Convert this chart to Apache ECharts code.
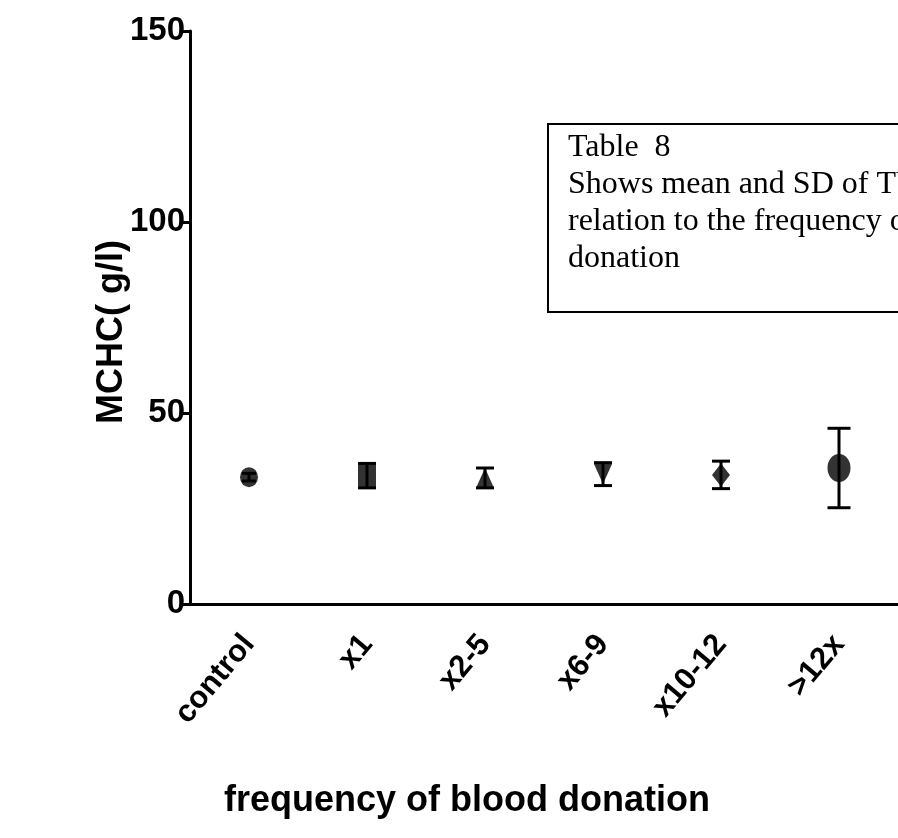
<!DOCTYPE html>
<html>
<head>
<meta charset="utf-8">
<script src="https://cdn.jsdelivr.net/npm/echarts@6/dist/echarts.min.js"></script>
<style>
  html, body { margin: 0; padding: 0; background: #fff; }
  #chart { width: 898px; height: 838px; }
</style>
</head>
<body>
<div id="chart"></div>
<script>
// Groups by number of donations
const categories = ['control', 'x1', 'x2-5', 'x6-9', 'x10-12', '>12x'];
// Mean MCHC per group
const means = [33.2, 33.6, 33.0, 34.0, 33.8, 35.6];
// Standard deviation per group
const sds = [1.0, 3.2, 2.6, 3.0, 3.6, 10.4];
// Marker shape per group
const shapes = ['circle', 'rect', 'triangle', 'path://M0,0 L10,0 L5,10 Z', 'diamond', 'circle'];
const sizes = [[18, 20], [18, 23], [18, 20], [18, 20], [18, 23], [23, 28]];
const capWidths = [14, 18, 18, 18, 18, 23];
const yTicks = [0, 50, 100, 150];

const font = 'Liberation Sans, Arial, sans-serif';
const serif = 'Liberation Serif, Times New Roman, serif';
const chart = echarts.init(document.getElementById('chart'));

const pointData = categories.map((c, i) => ({
  value: [i, means[i]],
  symbol: shapes[i],
  symbolSize: sizes[i]
}));
const barData = categories.map((c, i) => [i, means[i] - sds[i], means[i] + sds[i], capWidths[i]]);

chart.setOption({
  animation: false,
  backgroundColor: '#fff',
  grid: { left: 190, top: 31, bottom: 234, right: -8 },
  xAxis: {
    type: 'category',
    data: categories,
    boundaryGap: true,
    axisLine: { lineStyle: { color: '#000', width: 3 } },
    axisTick: { alignWithLabel: true, length: 15, lineStyle: { color: '#000', width: 3 } },
    axisLabel: {
      rotate: 50, margin: 35, color: '#000',
      fontFamily: font, fontWeight: 'bold', fontSize: 31
    },
    splitLine: { show: false }
  },
  yAxis: {
    type: 'value',
    min: yTicks[0], max: yTicks[yTicks.length - 1], interval: 50,
    axisLine: { show: true, lineStyle: { color: '#000', width: 3 } },
    axisTick: { show: true, length: 10, lineStyle: { color: '#000', width: 3 } },
    axisLabel: {
      margin: 5, color: '#000',
      fontFamily: font, fontWeight: 'bold', fontSize: 33
    },
    splitLine: { show: false }
  },
  series: [
    {
      type: 'custom',
      renderItem: function (params, api) {
        const x = api.value(0);
        const lo = api.coord([x, api.value(1)]);
        const hi = api.coord([x, api.value(2)]);
        const w = api.value(3) / 2;
        const style = { stroke: '#000', lineWidth: 3, fill: null };
        return {
          type: 'group',
          children: [
            { type: 'line', shape: { x1: lo[0], y1: lo[1], x2: hi[0], y2: hi[1] }, style },
            { type: 'line', shape: { x1: lo[0] - w, y1: lo[1], x2: lo[0] + w, y2: lo[1] }, style },
            { type: 'line', shape: { x1: hi[0] - w, y1: hi[1], x2: hi[0] + w, y2: hi[1] }, style }
          ]
        };
      },
      data: barData,
      z: 3
    },
    {
      type: 'scatter',
      data: pointData,
      itemStyle: { color: '#000' },
      z: 4
    }
  ],
  graphic: [
    {
      type: 'text',
      x: 112, y: 332,
      rotation: Math.PI / 2,
      style: {
        text: 'MCHC( g/l)', x: 0, y: 0,
        fill: '#000', font: 'bold 36px ' + font,
        textAlign: 'center', textVerticalAlign: 'middle'
      }
    },
    {
      type: 'text',
      x: 467, y: 801,
      style: {
        text: 'frequency of blood donation', x: 0, y: 0,
        fill: '#000', font: 'bold 36px ' + font,
        textAlign: 'center', textVerticalAlign: 'middle'
      }
    },
    {
      type: 'rect',
      shape: { x: 548, y: 124, width: 360, height: 188 },
      style: { fill: '#fff', stroke: '#000', lineWidth: 2 }
    },
    {
      type: 'text',
      x: 568, y: 129,
      style: {
        text: 'Table  8\nShows mean and SD of TV\nrelation to the frequency of\ndonation',
        x: 0, y: 0,
        fill: '#000', font: '32px ' + serif,
        lineHeight: 37
      }
    }
  ]
});
</script>
</body>
</html>
